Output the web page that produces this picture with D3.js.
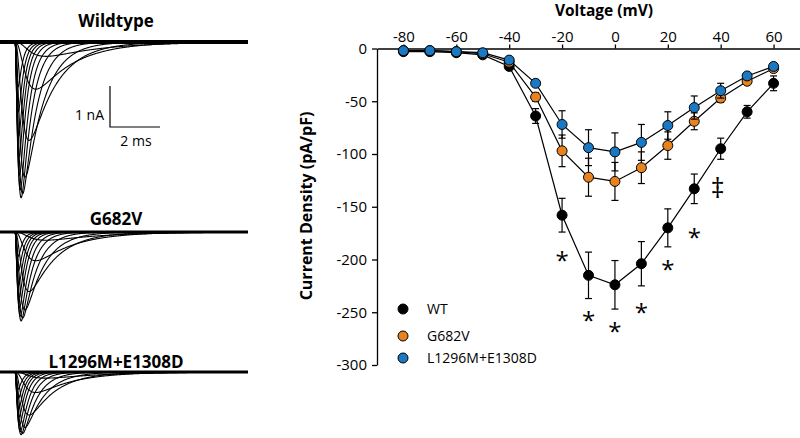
<!DOCTYPE html>
<html><head><meta charset="utf-8">
<script src="https://cdn.jsdelivr.net/npm/d3@7"></script>
<style>body{margin:0;background:#fff} svg{display:block}</style>
</head><body>
<svg id="c" width="800" height="438"></svg>
<script>
// ---- I-V data (pA/pF) ----
const voltages  = [-80,-70,-60,-50,-40,-30,-20,-10,0,10,20,30,40,50,60];
const wtMean    = [-3,-3,-4,-6,-17,-64,-158,-215,-224,-204,-170,-133,-95,-60,-33];
const wtSem     = [1,1,1,1,3,7,16,22,23,21,18,14,10,6,7];
const g682vMean = [-2,-2,-3,-5,-13,-46,-97,-122,-126,-113,-92,-69,-47,-31,-19];
const g682vSem  = [1,1,1,1,2,4,15,18,18,15,13,8,4,3,3];
const lemMean   = [-2,-2,-3,-4,-11,-33,-72,-94,-98,-89,-73,-56,-40,-26,-17];
const lemSem    = [1,1,1,1,2,3,13,17,18,17,13,11,7,3,3];
const seriesNames  = ["WT","G682V","L1296M+E1308D"];
const seriesColors = ["#000000","#e8821f","#1b79c3"];
const xTicks = [-80,-60,-40,-20,0,20,40,60];
const yTicks = [0,-50,-100,-150,-200,-250,-300];
// significance marks
const sigVoltages = [-20,-10,0,10,20,30,40];
const sigMarks    = ["*","*","*","*","*","*","\u2021"];
const sigY        = [-196,-253,-263,-245,-204,-174,-133];

// ---- example current traces (peak nA, activation tau ms, inactivation tau ms) ----
const panelTitles    = ["Wildtype","G682V","L1296M+E1308D"];
const wtTracePeak    = [0.35,1.15,2.4,3.3,3.7,3.8,3.6,3.25,2.8,2.3,1.7,1.1];
const g682vTracePeak = [0.2,0.7,1.45,1.9,2.1,2.17,2.05,1.85,1.6,1.3,0.95,0.6];
const lemTracePeak   = [0.15,0.5,1.05,1.35,1.5,1.53,1.45,1.3,1.1,0.9,0.65,0.42];
const traceTauM      = [0.45,0.3,0.2,0.14,0.11,0.09,0.08,0.07,0.065,0.06,0.055,0.05];
const traceTauH      = [2.2,1.5,1.05,0.75,0.55,0.42,0.34,0.28,0.24,0.21,0.19,0.17];

const svg = d3.select("#c");
const FONT = "'Open Sans', sans-serif";

// ===== I-V plot =====
const x = d3.scaleLinear().domain([-90,70]).range([377,800]);
const y = d3.scaleLinear().domain([0,-300]).range([48.5,365]);

const gx = svg.append("g").attr("transform","translate(0,48.5)")
  .call(d3.axisTop(x).tickValues(xTicks).tickSizeInner(4).tickSizeOuter(0).tickPadding(3));
const gy = svg.append("g").attr("transform","translate(377,0)")
  .call(d3.axisLeft(y).tickValues(yTicks).tickSizeInner(5).tickSizeOuter(0).tickPadding(5));
[gx,gy].forEach(g=>{
  g.selectAll("path,line").attr("stroke","#000").attr("stroke-width",1.3);
  g.selectAll("text").attr("font-family",FONT).attr("font-size",15).attr("fill","#000");
});
gx.selectAll("text").text(d=>d);
gy.selectAll("text").text(d=>d);

svg.append("text").attr("x",604).attr("y",16).attr("text-anchor","middle")
  .attr("font-family",FONT).attr("font-weight","bold").attr("font-size",15.5).text("Voltage (mV)");
svg.append("text").attr("transform","translate(312,206) rotate(-90)").attr("text-anchor","middle")
  .attr("font-family",FONT).attr("font-weight","bold").attr("font-size",16).text("Current Density (pA/pF)");

const series = [
  {name:seriesNames[0], color:seriesColors[0], mean:wtMean, sem:wtSem},
  {name:seriesNames[1], color:seriesColors[1], mean:g682vMean, sem:g682vSem},
  {name:seriesNames[2], color:seriesColors[2], mean:lemMean, sem:lemSem}
];
const line = d3.line().x(d=>x(d.v)).y(d=>y(d.m));
series.forEach(s=>{
  const pts = voltages.map((v,i)=>({v, m:s.mean[i], e:s.sem[i]}));
  const g = svg.append("g");
  g.append("path").datum(pts).attr("d",line).attr("fill","none").attr("stroke","#000").attr("stroke-width",1.2);
  const eb = g.selectAll(".eb").data(pts).join("g");
  eb.append("line").attr("x1",d=>x(d.v)).attr("x2",d=>x(d.v)).attr("y1",d=>y(d.m-d.e)).attr("y2",d=>y(d.m+d.e))
    .attr("stroke","#000").attr("stroke-width",1.2);
  [1,-1].forEach(sg=>{
    eb.append("line").attr("x1",d=>x(d.v)-3.5).attr("x2",d=>x(d.v)+3.5)
      .attr("y1",d=>y(d.m+sg*d.e)).attr("y2",d=>y(d.m+sg*d.e)).attr("stroke","#000").attr("stroke-width",1.2);
  });
  g.selectAll("circle").data(pts).join("circle").attr("cx",d=>x(d.v)).attr("cy",d=>y(d.m)).attr("r",5)
    .attr("fill",s.color).attr("stroke","#000").attr("stroke-width",1);
});

// significance marks
svg.append("g").selectAll("text").data(sigVoltages.map((v,i)=>({v,m:sigMarks[i],y:sigY[i]}))).join("text")
  .attr("x",d=>x(d.v) - (d.m==="*"?0:3)).attr("y",d=>y(d.y)+ (d.m==="*"?14:9))
  .attr("text-anchor","middle").attr("font-family",FONT)
  .attr("font-size",d=>d.m==="*"?24:27).text(d=>d.m);

// legend
const legY = [309,336,358];
series.forEach((s,i)=>{
  svg.append("circle").attr("cx",403).attr("cy",legY[i]).attr("r",5).attr("fill",s.color).attr("stroke","#000").attr("stroke-width",1);
  svg.append("text").attr("x",427).attr("y",legY[i]).attr("dy","0.35em").attr("font-family",FONT).attr("font-size",14).text(s.name);
});

// ===== Current traces =====
const panels = [
  {title:panelTitles[0], peaks:wtTracePeak, base:42, titleY:27, bw:4},
  {title:panelTitles[1], peaks:g682vTracePeak, base:232, titleY:225, bw:3},
  {title:panelTitles[2], peaks:lemTracePeak, base:372, titleY:368, bw:3}
];
const tx = d3.scaleLinear().domain([-0.6,9.32]).range([0,248]);
const tSamples = d3.range(0,9.321,0.02);
panels.forEach(p=>{
  const ty = d3.scaleLinear().domain([0,-1]).range([p.base,p.base+41]);
  const g = svg.append("g");
  svg.append("text").attr("x",116).attr("y",p.titleY).attr("text-anchor","middle")
    .attr("font-family",FONT).attr("font-weight","bold").attr("font-size",17).text(p.title);
  g.append("line").attr("x1",tx(-0.6)).attr("x2",tx(9.32)).attr("y1",p.base).attr("y2",p.base)
    .attr("stroke","#000").attr("stroke-width",p.bw);
  const tl = d3.line().x(d=>tx(d[0])).y(d=>ty(d[1])).curve(d3.curveLinear);
  p.peaks.forEach((pk,i)=>{
    const tm = traceTauM[i], th = traceTauH[i];
    const raw = tSamples.map(t=>Math.pow(1-Math.exp(-t/tm),3)*Math.exp(-t/th));
    const mx = d3.max(raw);
    const pts = [[-0.6,0]].concat(tSamples.map((t,k)=>[t,-pk*raw[k]/mx]));
    g.append("path").datum(pts).attr("d",tl).attr("fill","none").attr("stroke","#000")
      .attr("stroke-width",1.1).attr("stroke-linejoin","round");
  });
});
// scale bar
svg.append("path").attr("d","M110,86V127H160").attr("fill","none").attr("stroke","#000").attr("stroke-width",1.2);
svg.append("text").attr("x",104).attr("y",115).attr("dy","0.35em").attr("text-anchor","end")
  .attr("font-family",FONT).attr("font-size",14).text("1 nA");
svg.append("text").attr("x",136).attr("y",141).attr("dy","0.35em").attr("text-anchor","middle")
  .attr("font-family",FONT).attr("font-size",14).text("2 ms");
</script>
</body></html>
